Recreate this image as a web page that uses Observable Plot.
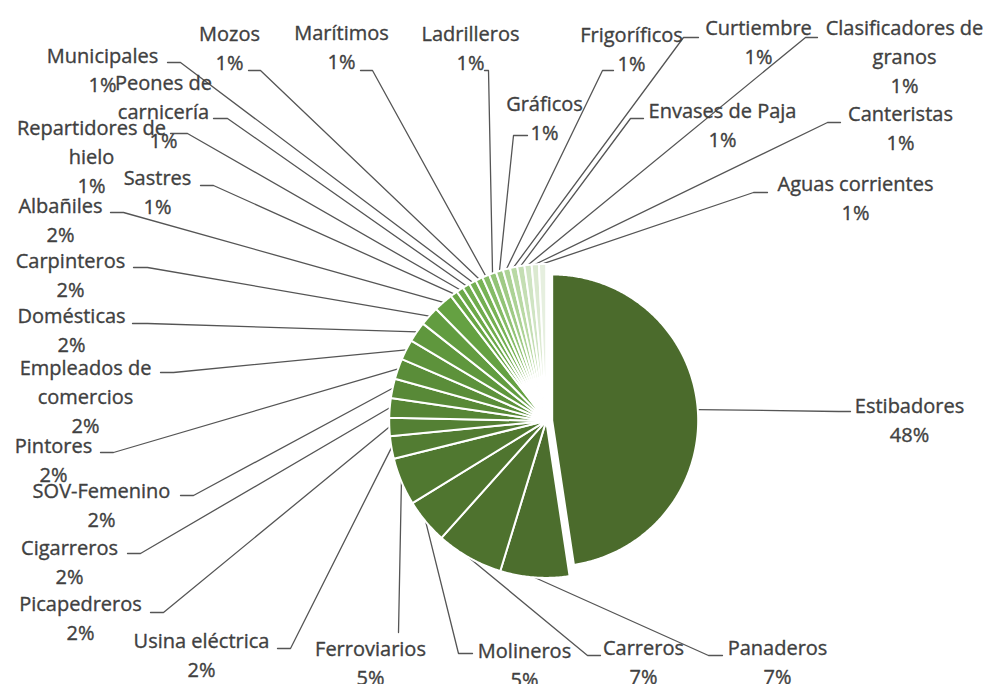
<!DOCTYPE html>
<html><head><meta charset="utf-8">
<script src="https://cdn.jsdelivr.net/npm/d3@7"></script>
<script src="https://cdn.jsdelivr.net/npm/@observablehq/plot@0.6"></script>
<style>body{margin:0;background:#fff}#chart{width:989px;height:684px}</style>
</head><body><div id="chart"></div>
<script>
// ---------- DATA ----------
const categories = ["Estibadores","Panaderos","Carreros","Molineros","Ferroviarios","Usina eléctrica","Picapedreros","Cigarreros","SOV-Femenino","Pintores","Empleados de comercios","Domésticas","Carpinteros","Albañiles","Sastres","Repartidores de hielo","Peones de carnicería","Municipales","Mozos","Marítimos","Ladrilleros","Gráficos","Frigoríficos","Curtiembre","Envases de Paja","Clasificadores de granos","Canteristas","Aguas corrientes"];
const values = [47.6,7.1,6.9,4.6,4.9,2.3,1.9,2.0,2.0,2.1,2.1,2.1,2.0,2.0,0.74,0.74,0.74,0.74,0.74,0.74,0.74,0.74,0.74,0.74,0.74,0.74,0.74,0.74];
// category names as displayed (line breaks as in the original)
const displayNames = ["Estibadores","Panaderos","Carreros","Molineros","Ferroviarios","Usina eléctrica","Picapedreros","Cigarreros","SOV-Femenino","Pintores","Empleados de\ncomercios","Domésticas","Carpinteros","Albañiles","Sastres","Repartidores de\nhielo","Peones de\ncarnicería","Municipales","Mozos","Marítimos","Ladrilleros","Gráficos","Frigoríficos","Curtiembre","Envases de Paja","Clasificadores de\ngranos","Canteristas","Aguas corrientes"];

// ---------- LAYOUT (not data) ----------
const W = 989, H = 684;
const CX = 545.7, CY = 420.4, R = 157;      // pie centre and radius (page px)
const explodeIndex = 0, explodeOffset = 6, explodeRadius = 146;
// [labelCentreX, firstLineY, stubStartX, stubEndX, stubY]
const labelLayout = [
 [909,405,850,838,411],
 [777,647,722,708,655],
 [643,647,600,587,655],
 [524,650,472,458,653],
 [370,648,398,398,632],
 [201,640,277,290,648],
 [80,603,150,163,612],
 [69,547,127,140,553],
 [101,490,180,193,495],
 [53,445,100,113,452],
 [85,367,160,173,372],
 [71,315,132,147,323],
 [70,260,133,147,267],
 [60,205,110,123,212],
 [157,177,200,213,185],
 [91,127,170,187,133],
 [163,82,213,227,118],
 [102,55,167,180,62],
 [229,33,248,260,70],
 [341,32,360,372,70],
 [470,33,484,488,70],
 [544,103,527,513,135],
 [631,34,613,602,70],
 [758,27,698,683,37],
 [722,110,643,630,118],
 [904,27,817,805,37],
 [900,113,840,827,122],
 [855,183,767,753,192]
];
const LINE = 29;

const palette = d3.piecewise(d3.interpolateRgb, ["#4b6b2c","#517a31","#5a8d39","#66a343","#78b356","#b3d69d","#e6efdf"]);

// ---------- BUILD ----------
const total = d3.sum(values);
const arcs = d3.pie().sort(null).value(d => d)(values);
const slicePts = [];
const leaderPts = [];
const labels = [];
arcs.forEach((a, i) => {
  const mid = (a.startAngle + a.endAngle) / 2;
  let cx = CX, cy = CY, r = R;
  if (i === explodeIndex) {
    cx += explodeOffset * Math.sin(mid); cy -= explodeOffset * Math.cos(mid); r = explodeRadius;
  }
  const color = palette(i / (values.length - 1));
  slicePts.push({k: i, x: cx, y: cy, c: color});
  const n = Math.max(2, Math.ceil((a.endAngle - a.startAngle) / (Math.PI / 360)));
  for (let j = 0; j <= n; j++) {
    const t = a.startAngle + (a.endAngle - a.startAngle) * j / n;
    slicePts.push({k: i, x: cx + r * Math.sin(t), y: cy - r * Math.cos(t), c: color});
  }
  const [lx, ly, s0, s1, sy] = labelLayout[i];
  leaderPts.push({k: i, x: s0, y: sy});
  leaderPts.push({k: i, x: s1, y: sy});
  leaderPts.push({k: i, x: cx + r * Math.sin(mid), y: cy - r * Math.cos(mid)});
  const pct = Math.round(values[i] / total * 100) + "%";
  const txt = displayNames[i] + "\n" + pct;
  const nl = txt.split("\n").length;
  labels.push({x: lx, y: ly - 2 + (nl - 1) * LINE / 2, text: txt});
});

const chart = Plot.plot({
  width: W, height: H, margin: 0,
  x: {domain: [0, W], range: [0, W], axis: null},
  y: {domain: [0, H], range: [0, H], axis: null},
  color: {type: "identity"},
  style: {fontFamily: "'Open Sans', sans-serif", background: "#fff"},
  marks: [
    Plot.line(leaderPts, {x: "x", y: "y", z: "k", stroke: "#555555", strokeWidth: 1.3}),
    Plot.line(slicePts, {x: "x", y: "y", z: "k", fill: "c", stroke: "white", strokeWidth: 2, strokeLinejoin: "round", curve: "linear-closed"}),
    Plot.text(labels, {x: "x", y: "y", text: "text", fontSize: 20, lineHeight: LINE / 20, textAnchor: "middle", lineAnchor: "middle", fill: "#404040", stroke: "#404040", strokeWidth: 0.35})
  ]
});
document.getElementById("chart").append(chart);
</script>
</body></html>
